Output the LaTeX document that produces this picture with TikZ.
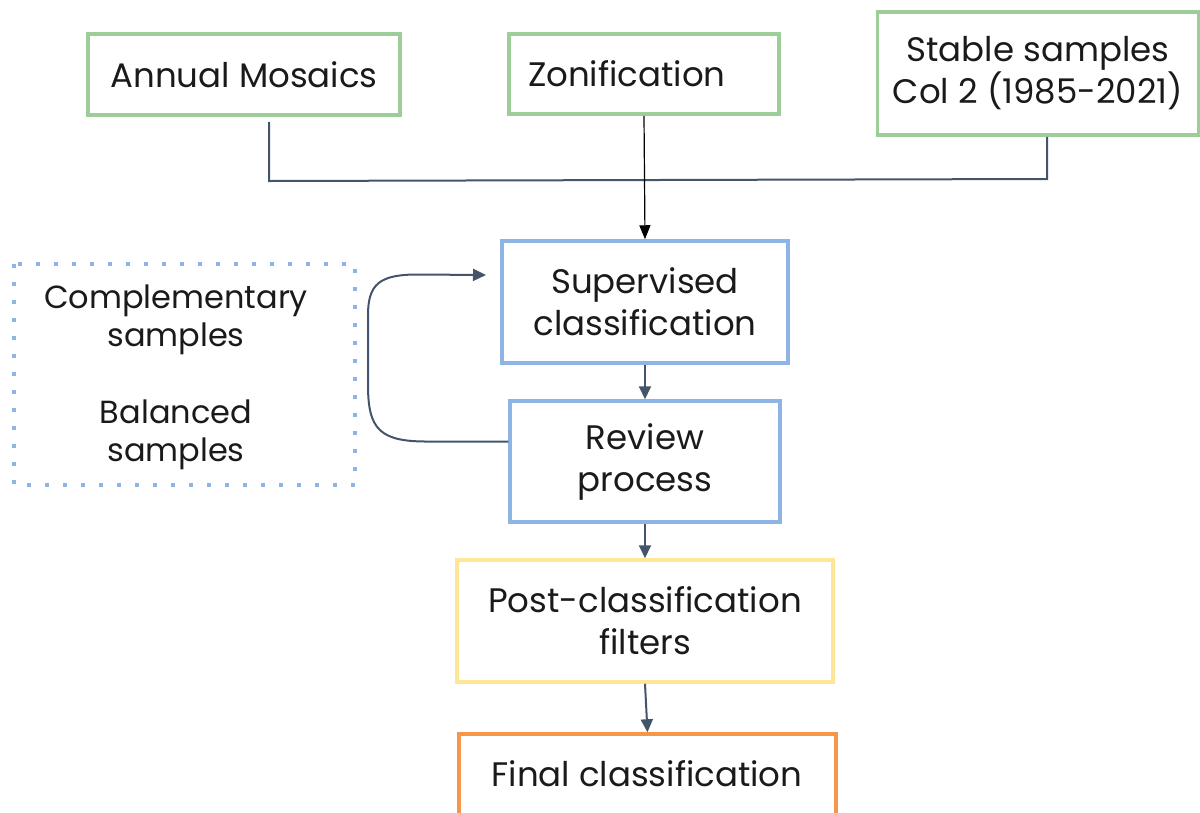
\documentclass[tikz,border=0pt]{standalone}
\usepackage{fontspec}
\setmainfont{Poppins}
\usetikzlibrary{arrows.meta}
\definecolor{boxgreen}{HTML}{9DCE9A}
\definecolor{boxblue}{HTML}{8DB4E2}
\definecolor{boxyellow}{HTML}{FFE699}
\definecolor{boxorange}{HTML}{F79646}
\definecolor{slate}{HTML}{44546A}
\definecolor{ink}{HTML}{1A1A1A}
\tikzset{
  bodyfont/.style={font=\fontsize{34}{42}\selectfont},
  stepbox/.style={draw, line width=3.5pt, rectangle, align=center, inner sep=0pt,
    text=ink, bodyfont},
  inbox/.style={stepbox, draw=boxgreen},
  procbox/.style={stepbox, draw=boxblue},
  filtbox/.style={stepbox, draw=boxyellow},
  outbox/.style={stepbox, draw=boxorange},
  conn/.style={draw=slate, line width=2pt},
  arr/.style={conn, -{Triangle[length=13pt,width=12pt]}},
  dotbox/.style={draw=boxblue, line width=4pt, dash pattern=on 4pt off 14pt},
}
\begin{document}
\begin{tikzpicture}[x=1pt, y=-1pt]
\useasboundingbox (0,0) rectangle (1200,812);
\begin{scope}
\clip (0,0) rectangle (1200,812);

% input layers
\node[inbox, minimum width=312pt, minimum height=81pt] (mosaics) at (244,74.5) {Annual Mosaics};
\node[inbox, minimum height=80pt, text width=232pt, inner xsep=19pt, align=left] (zones) at (644,74) {Zonification};
\node[inbox, minimum width=321pt, minimum height=123pt] (stable) at (1038,73.5) {Stable samples\\Col 2 (1985-2021)};

% classification chain
\node[procbox, minimum width=286pt, minimum height=122pt] (superv) at (645,302) {Supervised\\classification};
\node[procbox, minimum width=270pt, minimum height=121pt] (review) at (645,461.5) {Review\\process};
\node[filtbox, minimum width=376pt, minimum height=122pt] (filters) at (645,621) {Post-classification\\filters};
\node[outbox, minimum width=377pt, minimum height=122pt] (final) at (647.5,795) {};
\node[text=ink, bodyfont, anchor=base] (finaltxt) at (647,786) {Final classification};

% extra sample sets
\draw[dotbox] (14,264) rectangle (355,485);
\node[text=ink, font=\fontsize{32}{38}\selectfont, align=center] (samples) at (176,377)
  {Complementary\\samples\\[39pt]Balanced\\samples};

% merging the inputs
\coordinate (mj) at (269,181);
\coordinate (sj) at (1047,179);
\draw[conn] (mosaics.south -| mj) ++(0,5) -- (mj) -- (sj) -- (stable.south -| sj);
\draw[-{Triangle[length=14pt,width=11pt]}, line width=1.2pt, black] (zones.south) -- (superv.north);

% chain arrows
\draw[arr] (superv.south) -- (review.north);
\draw[arr] (review.south) -- (filters.north);
\draw[arr] (filters.south) -- (final.north);

% feedback loop
\coordinate (back) at (486,275);
\draw[arr] (review.west) ++(0,-20) -- (430,441.5)
  .. controls (380,442) and (368,430) .. (368,385) -- (368,315)
  .. controls (368,284) and (380,275) .. (415,274.5) -- (back);
\end{scope}
\end{tikzpicture}
\end{document}
